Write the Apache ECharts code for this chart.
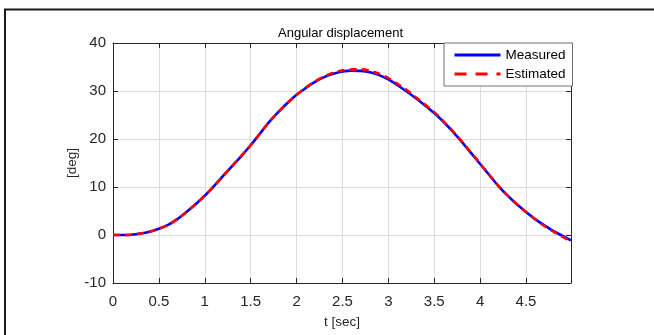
<!DOCTYPE html>
<html>
<head>
<meta charset="utf-8">
<script src="https://cdn.jsdelivr.net/npm/echarts@6/dist/echarts.min.js"></script>
<style>
  html, body { margin: 0; padding: 0; background: #fff; }
  #chart { width: 654px; height: 335px; }
</style>
</head>
<body>
<div id="chart"></div>
<script>
// time [sec]
const time = [0, 0.1, 0.2, 0.3, 0.4, 0.5, 0.6, 0.7, 0.8, 0.9,
  1.0, 1.1, 1.2, 1.3, 1.4, 1.5, 1.6, 1.7, 1.8, 1.9,
  2.0, 2.1, 2.2, 2.3, 2.4, 2.5, 2.6, 2.7, 2.8, 2.9,
  3.0, 3.1, 3.2, 3.3, 3.4, 3.5, 3.6, 3.7, 3.8, 3.9,
  4.0, 4.1, 4.2, 4.3, 4.4, 4.5, 4.6, 4.7, 4.8, 4.9, 4.99];

// angular displacement [deg]
const measured = [0, 0, 0.05, 0.3, 0.7, 1.3, 2.1, 3.3, 4.8, 6.4,
  8.2, 10.2, 12.3, 14.4, 16.5, 18.7, 21.1, 23.5, 25.6, 27.5,
  29.2, 30.6, 31.9, 32.9, 33.6, 34.05, 34.25, 34.2, 33.9, 33.3,
  32.4, 31.2, 29.9, 28.5, 27.0, 25.4, 23.6, 21.6, 19.4, 17.1,
  14.8, 12.5, 10.2, 8.2, 6.4, 4.8, 3.3, 2.0, 0.8, -0.2, -1.1];

const estimated = [0, 0, 0.05, 0.3, 0.7, 1.3, 2.1, 3.3, 4.8, 6.4,
  8.2, 10.2, 12.3, 14.4, 16.5, 18.7, 21.1, 23.5, 25.6, 27.5,
  29.2, 30.7, 32.0, 33.0, 33.8, 34.3, 34.5, 34.5, 34.2, 33.6,
  32.7, 31.5, 30.2, 28.7, 27.2, 25.6, 23.7, 21.7, 19.5, 17.2,
  14.9, 12.5, 10.2, 8.2, 6.4, 4.8, 3.3, 1.9, 0.7, -0.4, -1.4];

const xTicks = [0, 0.5, 1, 1.5, 2, 2.5, 3, 3.5, 4, 4.5];

const chart = echarts.init(document.getElementById("chart"));

const txt = "#262626";
const font = "Liberation Sans, Arial, sans-serif";

// box axes (top / right) only draw the frame and inward ticks
const boxAxis = {
  type: "value",
  axisLine: { show: true, onZero: false, lineStyle: { color: txt, width: 1 } },
  axisTick: { show: true, inside: true, length: 5, lineStyle: { color: txt } },
  axisLabel: { show: false },
  splitLine: { show: false }
};

chart.setOption({
  animation: false,
  textStyle: { fontFamily: font },
  graphic: [
    {
      type: "rect",
      shape: { x: 5, y: 9.5, width: 700, height: 400 },
      style: { fill: "none", stroke: "#1a1a1a", lineWidth: 2 },
      silent: true
    }
  ],
  title: {
    text: "Angular displacement",
    left: 273,
    top: 22,
    textStyle: { fontSize: 13, fontWeight: "normal", color: "#000", fontFamily: font }
  },
  legend: {
    orient: "vertical",
    left: 444,
    top: 43,
    padding: [5, 7, 5, 9],
    itemWidth: 46,
    itemHeight: 14,
    itemGap: 5,
    backgroundColor: "#fff",
    borderColor: "#707070",
    borderWidth: 1,
    itemStyle: { opacity: 0 },
    lineStyle: { width: 3 },
    textStyle: { fontSize: 13.5, color: "#000", fontFamily: font },
    data: [
      { name: "Measured" },
      { name: "Estimated", lineStyle: { width: 3, type: [12, 9] } }
    ]
  },
  grid: { left: 113, top: 43, width: 458, height: 240 },
  xAxis: [
    {
      type: "value",
      min: 0,
      max: 4.99,
      interval: 0.5,
      name: "t [sec]",
      nameLocation: "middle",
      nameGap: 32,
      nameTextStyle: { fontSize: 13.5, color: txt },
      axisLine: { show: true, onZero: false, lineStyle: { color: txt, width: 1 } },
      axisTick: { show: true, inside: true, length: 5, lineStyle: { color: txt } },
      axisLabel: {
        fontSize: 15,
        color: txt,
        margin: 11,
        formatter: v => (xTicks.some(t => Math.abs(t - v) < 1e-6) ? String(v) : "")
      },
      splitLine: { show: true, lineStyle: { color: "#dcdcdc", width: 1 } }
    },
    Object.assign({}, boxAxis, { position: "top", min: 0, max: 4.99, interval: 0.5 })
  ],
  yAxis: [
    {
      type: "value",
      min: -10,
      max: 40,
      interval: 10,
      name: "[deg]",
      nameLocation: "middle",
      nameRotate: 90,
      nameGap: 34,
      nameMoveOverlap: false,
      nameTextStyle: { fontSize: 13.5, color: txt },
      axisLine: { show: true, onZero: false, lineStyle: { color: txt, width: 1 } },
      axisTick: { show: true, inside: true, length: 5, lineStyle: { color: txt } },
      axisLabel: { fontSize: 15, color: txt, margin: 7 },
      splitLine: { show: true, lineStyle: { color: "#dcdcdc", width: 1 } }
    },
    Object.assign({}, boxAxis, { position: "right", min: -10, max: 40, interval: 10 })
  ],
  series: [
    {
      name: "Measured",
      type: "line",
      data: time.map((t, i) => [t, measured[i]]),
      showSymbol: false,
      symbol: "none",
      smooth: 0.3,
      color: "#0000ff",
      lineStyle: { color: "#0000ff", width: 2.6 }
    },
    {
      name: "Estimated",
      type: "line",
      data: time.map((t, i) => [t, estimated[i]]),
      showSymbol: false,
      symbol: "none",
      smooth: 0.3,
      color: "#ff0000",
      lineStyle: { color: "#ff0000", width: 2.6, type: [7, 5] }
    }
  ]
});
</script>
</body>
</html>
